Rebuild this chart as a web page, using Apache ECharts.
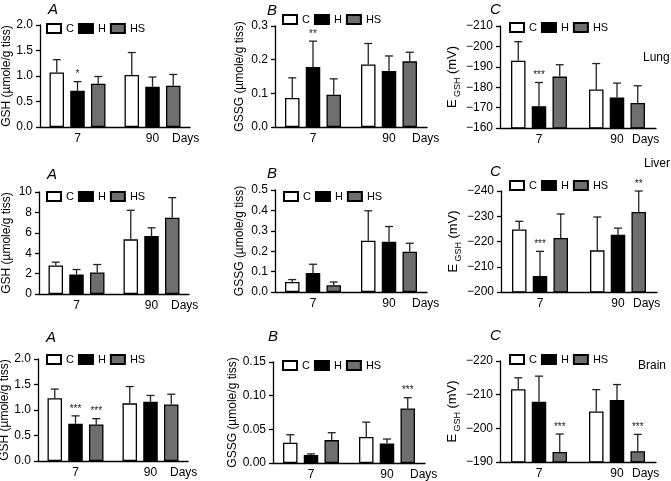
<!DOCTYPE html>
<html><head><meta charset="utf-8">
<script src="https://cdn.jsdelivr.net/npm/echarts@6/dist/echarts.min.js"></script>
<style>html,body{margin:0;padding:0;background:#fff}#c{width:671px;height:481px}</style>
</head><body><div id="c"></div>
<script>
// ---------- DATA ----------
const days = ['7', '90'];
const groups = ['C', 'H', 'HS'];

// rows: [C, H, HS], columns: [day 7, day 90]
const lungGSHMean = [[1.07, 1.02], [0.71, 0.79], [0.85, 0.81]];
const lungGSHSD   = [[0.25, 0.44], [0.18, 0.19], [0.14, 0.22]];
const lungGSHSig  = [['', ''], ['*', ''], ['', '']];

const lungGSSGMean = [[0.086, 0.186], [0.178, 0.166], [0.096, 0.195]];
const lungGSSGSD   = [[0.060, 0.062], [0.077, 0.045], [0.047, 0.027]];
const lungGSSGSig  = [['', ''], ['**', ''], ['', '']];

const lungEGSHMean = [[-193.0, -178.9], [-170.7, -174.9], [-185.2, -172.3]];
const lungEGSHSD   = [[9.3, 12.7], [11.6, 7.1], [5.8, 8.4]];
const lungEGSHSig  = [['', ''], ['***', ''], ['', '']];

const liverGSHMean = [[2.79, 5.36], [1.92, 5.68], [2.11, 7.47]];
const liverGSHSD   = [[0.33, 2.85], [0.48, 0.81], [0.78, 1.98]];
const liverGSHSig  = [['', ''], ['', ''], ['', '']];

const liverGSSGMean = [[0.049, 0.251], [0.093, 0.246], [0.033, 0.197]];
const liverGSSGSD   = [[0.012, 0.147], [0.043, 0.075], [0.016, 0.042]];
const liverGSSGSig  = [['', ''], ['', ''], ['', '']];

const liverEGSHMean = [[-224.8, -216.5], [-206.3, -222.7], [-221.4, -231.7]];
const liverEGSHSD   = [[3.2, 13.2], [9.8, 2.6], [9.5, 8.3]];
const liverEGSHSig  = [['', ''], ['***', ''], ['', '**']];

const brainGSHMean = [[1.23, 1.13], [0.73, 1.16], [0.715, 1.11]];
const brainGSHSD   = [[0.18, 0.33], [0.155, 0.125], [0.115, 0.20]];
const brainGSHSig  = [['', ''], ['***', ''], ['***', '']];

const brainGSSGMean = [[0.030, 0.0386], [0.012, 0.029], [0.034, 0.081]];
const brainGSSGSD   = [[0.012, 0.022], [0.0015, 0.0066], [0.011, 0.016]];
const brainGSSGSig  = [['', ''], ['', ''], ['', '***']];

const brainEGSHMean = [[-211.6, -205.0], [-207.9, -208.4], [-193.0, -193.2]];
const brainEGSHSD   = [[3.4, 6.5], [7.6, 4.6], [5.3, 5.0]];
const brainEGSHSig  = [['', ''], ['', ''], ['***', '***']];

// tick labels
const lungGSHTicks   = [0, 0.5, 1.0, 1.5, 2.0];
const lungGSSGTicks  = [0, 0.1, 0.2, 0.3];
const lungEGSHTicks  = [-210, -200, -190, -180, -170, -160];
const liverGSHTicks  = [0, 2, 4, 6, 8, 10];
const liverGSSGTicks = [0, 0.1, 0.2, 0.3, 0.4, 0.5];
const liverEGSHTicks = [-240, -230, -220, -210, -200];
const brainGSHTicks  = [0, 0.5, 1.0, 1.5, 2.0];
const brainGSSGTicks = [0, 0.05, 0.10, 0.15];
const brainEGSHTicks = [-220, -210, -200, -190];

const gshName  = 'GSH (µmole/g tiss)';
const gssgName = 'GSSG (µmole/g tiss)';
const egshName = '{e|E}{s| GSH} {e|(mV)}';
const organs = ['Lung', 'Liver', 'Brain'];
const letters = ['A', 'B', 'C'];

// ---------- LAYOUT ----------
const FONT = '"Liberation Sans", Arial, Helvetica, sans-serif';
const BAR_W = 14.5, GAP = 0.43;
const barColors = ['#ffffff', '#000000', '#6e6e6e'];
const daysGap = [-18, -15, -24];

const panels = [
  {mean: lungGSHMean,  sd: lungGSHSD,  sig: lungGSHSig,  ticks: lungGSHTicks,  dec: 1, name: gshName,  inv: false},
  {mean: lungGSSGMean, sd: lungGSSGSD, sig: lungGSSGSig, ticks: lungGSSGTicks, dec: 1, name: gssgName, inv: false},
  {mean: lungEGSHMean, sd: lungEGSHSD, sig: lungEGSHSig, ticks: lungEGSHTicks, dec: 0, name: egshName, inv: true},
  {mean: liverGSHMean,  sd: liverGSHSD,  sig: liverGSHSig,  ticks: liverGSHTicks,  dec: 0, name: gshName,  inv: false},
  {mean: liverGSSGMean, sd: liverGSSGSD, sig: liverGSSGSig, ticks: liverGSSGTicks, dec: 1, name: gssgName, inv: false},
  {mean: liverEGSHMean, sd: liverEGSHSD, sig: liverEGSHSig, ticks: liverEGSHTicks, dec: 0, name: egshName, inv: true},
  {mean: brainGSHMean,  sd: brainGSHSD,  sig: brainGSHSig,  ticks: brainGSHTicks,  dec: 1, name: gshName,  inv: false},
  {mean: brainGSSGMean, sd: brainGSSGSD, sig: brainGSSGSig, ticks: brainGSSGTicks, dec: 2, name: gssgName, inv: false},
  {mean: brainEGSHMean, sd: brainEGSHSD, sig: brainEGSHSig, ticks: brainEGSHTicks, dec: 0, name: egshName, inv: true}
];

// [left, top, width, bottomY, nameGap, legendLeft, legendCenterY, letterX, letterY]
const layout = [
  [40, 25, 150, 127, 26, 46, 30, 48, 10],
  [275, 26, 152, 127, 29, 282, 21, 267, 11],
  [500, 26, 156, 128, 31, 509, 29, 490, 10],
  [39, 192, 150, 294, 26, 46, 198, 47, 175],
  [275, 190, 152, 292, 29, 283, 198, 267, 174],
  [501, 191, 156, 292, 31, 509, 187, 490, 172],
  [38, 359, 150, 461, 26, 46, 361, 46, 338],
  [273, 362, 152, 463, 29, 282, 367, 268, 337],
  [500, 361, 156, 462, 31, 509, 361, 490, 336]
];
const organPos = [[643, 59], [644, 165], [638, 367]];

const grids = [], xAxes = [], yAxes = [], series = [], legends = [], graphics = [];

panels.forEach((p, i) => {
  const L = layout[i];
  grids.push({left: L[0], top: L[1], width: L[2], height: L[3] - L[1], outerBoundsMode: 'none', containLabel: false});
  xAxes.push({
    gridIndex: i, type: 'category', data: days, z: 10,
    axisLine: {show: true, onZero: false, lineStyle: {color: '#000', width: 1.3}},
    axisTick: {show: false},
    axisLabel: {fontSize: 12, color: '#000', fontFamily: FONT, margin: 6},
    name: 'Days', nameLocation: 'end', nameGap: daysGap[i % 3],
    nameTextStyle: {fontSize: 12, color: '#000', fontFamily: FONT, align: 'left', verticalAlign: 'top', padding: [6, 0, 0, 0]}
  });
  const t = p.ticks;
  yAxes.push({
    gridIndex: i, type: 'value', min: t[0], max: t[t.length - 1], interval: t[1] - t[0], inverse: p.inv,
    axisLine: {show: true, lineStyle: {color: '#000', width: 1.3}},
    axisTick: {show: true, length: 4, lineStyle: {color: '#000', width: 1.3}},
    splitLine: {show: false},
    axisLabel: {fontSize: 12, color: '#000', fontFamily: FONT, margin: 7,
      formatter: v => (p.dec ? Number(v).toFixed(p.dec) : String(Math.round(v))).replace('-', '\u2212')},
    name: p.name, nameLocation: 'middle', nameGap: L[4],
    nameTextStyle: {fontSize: 12, color: '#000', fontFamily: FONT,
      rich: {e: {fontSize: 13, fontFamily: FONT, color: '#000'}, s: {fontSize: 9, fontFamily: FONT, color: '#000', verticalAlign: 'bottom', padding: [0, 0, -3, 0]}}}
  });
  groups.forEach((g, gi) => {
    series.push({
      type: 'bar', name: g, xAxisIndex: i, yAxisIndex: i, data: p.mean[gi],
      barWidth: BAR_W, barGap: (GAP * 100) + '%', clip: true,
      itemStyle: {color: barColors[gi], borderColor: '#000', borderWidth: 1.3},
      emphasis: {disabled: true}, animation: false
    });
  });
  const errData = [];
  groups.forEach((g, gi) => days.forEach((d, di) => errData.push([di, gi, p.mean[gi][di], p.sd[gi][di]])));
  const dir = p.inv ? -1 : 1;
  series.push({
    type: 'custom', xAxisIndex: i, yAxisIndex: i, z: 5, clip: false, animation: false,
    encode: {x: 0, y: 2},
    data: errData,
    renderItem: (params, api) => {
      const di = api.value(0), gi = api.value(1), m = api.value(2), s = api.value(3);
      const base = api.coord([di, m]);
      const end = api.coord([di, m + dir * s]);
      const x = base[0] + (gi - 1) * BAR_W * (1 + GAP);
      const cap = 4;
      const children = [
        {type: 'line', shape: {x1: x, y1: base[1], x2: x, y2: end[1]}, style: {stroke: '#222', lineWidth: 1.3}},
        {type: 'line', shape: {x1: x - cap, y1: end[1], x2: x + cap, y2: end[1]}, style: {stroke: '#222', lineWidth: 1.3}}
      ];
      const sg = p.sig[gi][di];
      if (sg) children.push({type: 'text', style: {text: sg, x: x, y: end[1] - 2, align: 'center', verticalAlign: 'bottom', fontSize: 10, fontFamily: FONT, fill: '#222'}});
      return {type: 'group', children};
    }
  });
  legends.push({
    left: L[5], top: L[6] - 7, padding: 0, orient: 'horizontal', icon: 'rect',
    itemWidth: 14, itemHeight: 9, itemGap: 4, selectedMode: false, data: groups,
    textStyle: {fontSize: 11, color: '#000', fontFamily: FONT}
  });
  graphics.push({type: 'text', left: L[7], top: L[8] - 8, style: {text: letters[i % 3], fontSize: 15, fontStyle: 'italic', fontFamily: FONT, fill: '#000'}});
});
organs.forEach((o, k) => graphics.push({type: 'text', left: organPos[k][0], top: organPos[k][1] - 7, style: {text: o, fontSize: 12, fontFamily: FONT, fill: '#000'}}));

const chart = echarts.init(document.getElementById('c'), null, {renderer: 'canvas'});
chart.setOption({
  animation: false, backgroundColor: '#fff',
  grid: grids, xAxis: xAxes, yAxis: yAxes, series, legend: legends, graphic: graphics
});
</script></body></html>
